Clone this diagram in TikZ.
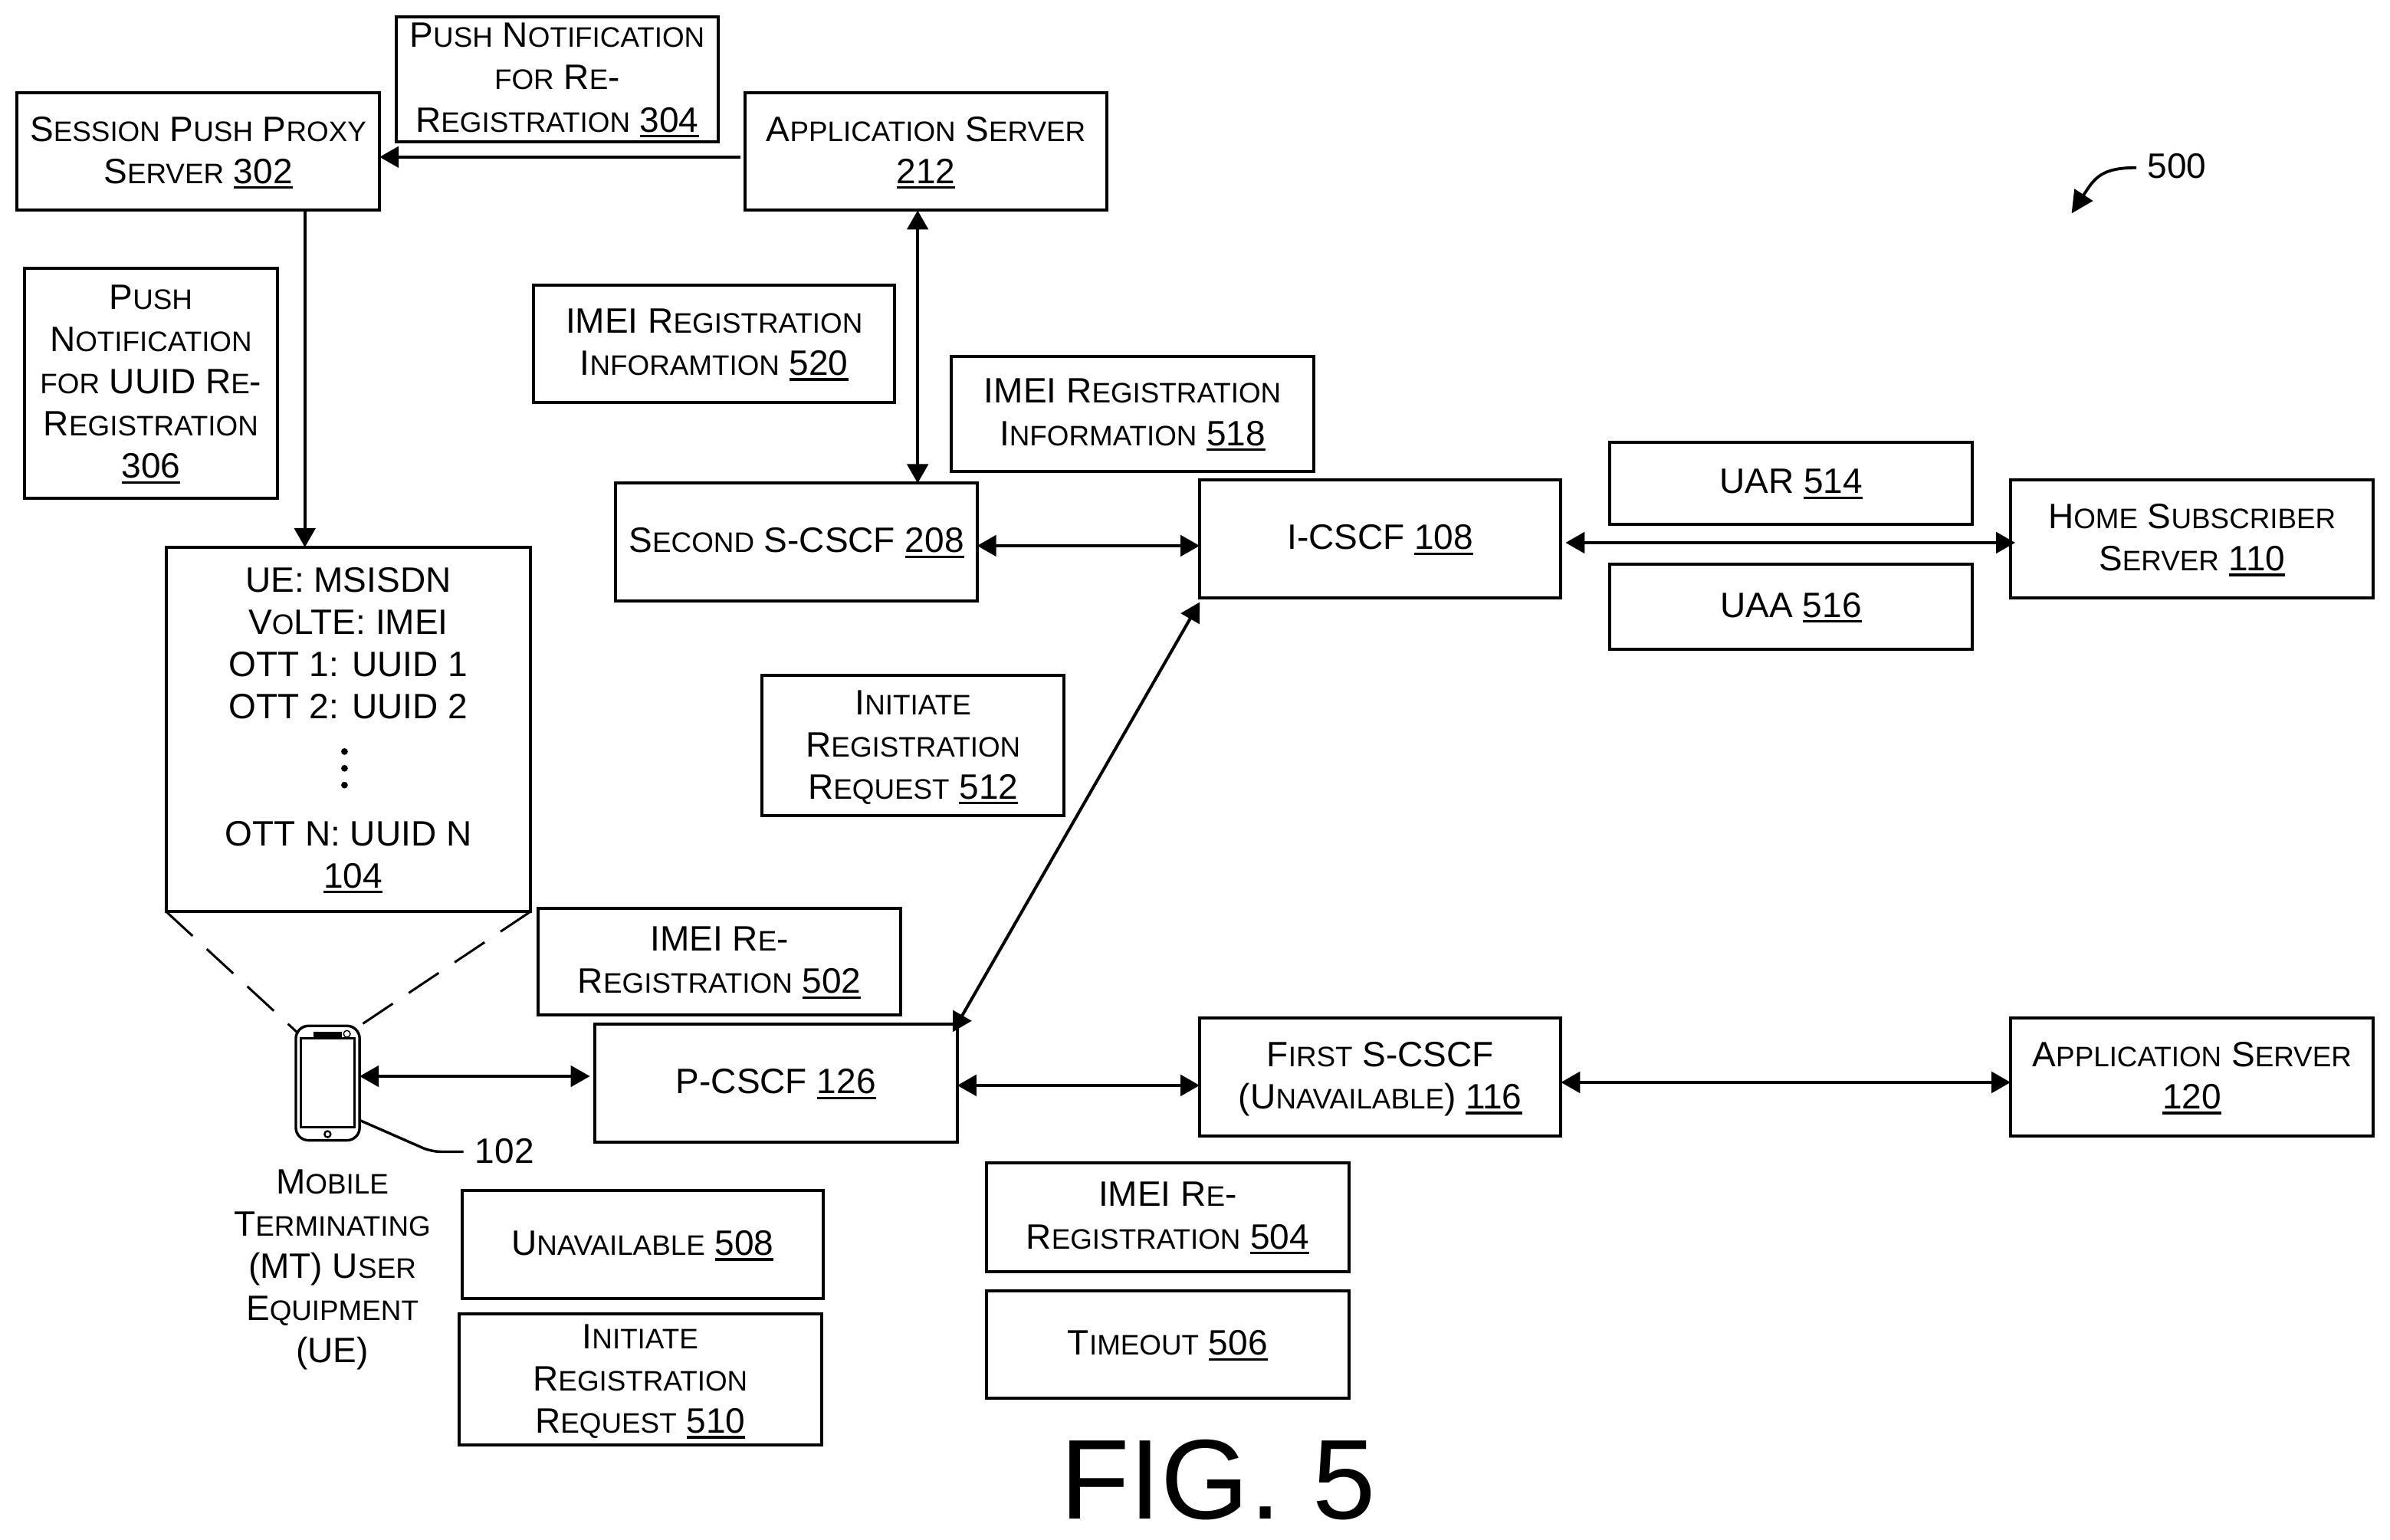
\documentclass[tikz,border=0pt]{standalone}
\usepackage{fontspec}
\setmainfont{Liberation Sans}
\usetikzlibrary{arrows.meta,calc}
\newcommand\sm[1]{{\fontsize{18.4}{27.55}\selectfont #1}}
\newcommand\unum[1]{\setbox0\hbox{#1}\rlap{\smash{\rule[-3.6pt]{\wd0}{1.7pt}}}\box0}
\tikzset{
  lbl/.style={inner sep=0pt,outer sep=0pt,align=center,font=\fontsize{23}{27.55}\selectfont},
  box/.style={lbl,draw,line width=2pt},
  link/.style={line width=2pt,{Triangle[length=12.5pt,width=13.7pt]}-{Triangle[length=12.5pt,width=13.7pt]}},
  oneway/.style={line width=2pt,-{Triangle[length=12.5pt,width=13.7pt]}},
  cone/.style={line width=1.5pt,dash pattern=on 23.5pt off 12.5pt}
}
\newcommand\bxx[6]{%
  \pgfmathsetmacro\cxx{(#2+#4)/2}\pgfmathsetmacro\cyy{(#3+#5)/2}%
  \pgfmathsetmacro\wxx{(#4-#2)*0.9943}\pgfmathsetmacro\hxx{(#5-#3)*0.9943}%
  \node[box,minimum width=\wxx pt,minimum height=\hxx pt] (#1) at (\cxx,\cyy) {#6\rule[-2.3pt]{0pt}{0pt}};}
\begin{document}
\begin{tikzpicture}[x=0.9943pt,y=-0.9943pt]
\useasboundingbox[fill=white] (0,0) rectangle (1567.9,1009.9);
\bxx{n302}{11}{61}{249}{138}{S\sm{ESSION} P\sm{USH} P\sm{ROXY}\\S\sm{ERVER} \unum{302}}
\bxx{n304}{260}{11}{471}{93}{P\sm{USH} N\sm{OTIFICATION}\\\sm{FOR} R\sm{E}-\\R\sm{EGISTRATION} \unum{304}}
\bxx{n212}{489}{61}{726}{138}{A\sm{PPLICATION} S\sm{ERVER}\\\unum{212}}
\bxx{n306}{16}{176}{182}{327}{P\sm{USH}\\N\sm{OTIFICATION}\\\sm{FOR} UUID R\sm{E}-\\R\sm{EGISTRATION}\\\unum{306}}
\bxx{n520}{350}{187}{587}{264}{IMEI R\sm{EGISTRATION}\\I\sm{NFORAMTION} \unum{520}}
\bxx{n518}{624}{234}{862}{309}{IMEI R\sm{EGISTRATION}\\I\sm{NFORMATION} \unum{518}}
\bxx{n208}{404}{317}{641}{394}{S\sm{ECOND} S-CSCF \unum{208}}
\bxx{n108}{787}{315}{1024}{392}{I-CSCF \unum{108}}
\bxx{n514}{1056}{290}{1294}{344}{UAR \unum{514}}
\bxx{n516}{1056}{370}{1294}{426}{UAA \unum{516}}
\bxx{n110}{1319}{315}{1557}{392}{H\sm{OME} S\sm{UBSCRIBER}\\S\sm{ERVER} \unum{110}}
\bxx{n512}{500}{443}{698}{535}{\rule{0pt}{17pt}I\sm{NITIATE}\\R\sm{EGISTRATION}\\R\sm{E\smash{Q}UEST} \unum{512}}
\bxx{n104}{109}{359}{348}{598}{UE: MSISDN\\V\sm{O}LTE: IMEI\\OTT 1: UUID 1\\OTT 2: UUID 2\\[55pt]OTT N: UUID N\\\hspace*{6pt}\unum{104}}
\bxx{n502}{353}{596}{591}{666}{IMEI R\sm{E}-\\R\sm{EGISTRATION} \unum{502}}
\bxx{n126}{390}{672}{628}{749}{P-CSCF \unum{126}}
\bxx{n116}{787}{668}{1024}{745}{F\sm{IRST} S-CSCF\\\smash{(}U\sm{NAVAILABLE}\smash{)} \unum{116}}
\bxx{n120}{1319}{668}{1557}{745}{A\sm{PPLICATION} S\sm{ERVER}\\\unum{120}}
\bxx{n504}{647}{763}{885}{834}{IMEI R\sm{E}-\\R\sm{EGISTRATION} \unum{504}}
\bxx{n506}{647}{847}{885}{917}{T\sm{IMEOUT} \unum{506}}
\bxx{n508}{303}{781}{540}{852}{U\sm{NAVAILABLE} \unum{508}}
\bxx{n510}{301}{862}{539}{948}{\rule{0pt}{17pt}I\sm{NITIATE}\\R\sm{EGISTRATION}\\R\sm{E\smash{Q}UEST} \unum{510}}
% dots in 104
\foreach \yy in {493,504,515}{\fill (226,\yy) circle (2.2pt);}
% phone
\node[draw,line width=1.7pt,rounded corners=8.3pt,inner sep=0pt,outer sep=0pt,minimum width=41.6pt,minimum height=74.7pt] (phone) at (215,710.5) {};
\draw[line width=1.7pt] (197.3,681) rectangle (232.6,739.3);
\fill (205.7,677) rectangle (224.3,680.2);
\draw[line width=0.7pt] (227.6,678.2) circle (2.2pt);
\draw[line width=1.2pt] (214.9,744) circle (2pt);
\node[lbl] (mt) at (218,833) {M\sm{OBILE}\\T\sm{ERMINATING}\\(MT) U\sm{SER}\\E\sm{QUIPMENT}\\(UE)};
\node[lbl] (l102) at (331,755) {102};
\node[lbl] (l500) at (1428,109) {500};
\node[lbl,font=\fontsize{74}{80}\selectfont] (fig) at (799,971) {FIG. 5};
% coordinates
\coordinate (y212) at (0,103);
\coordinate (x302) at (200,0);
\coordinate (x212) at (602,0);
\coordinate (y208) at (0,358);
\coordinate (y108) at (0,356);
\coordinate (y126) at (0,712);
\coordinate (y116) at (0,710);
\coordinate (yph) at (0,706);
\coordinate (pc) at (625,677);
\coordinate (ic) at (787,395);
\coordinate (a500) at (1401.5,110);
\coordinate (b500) at (1359,140);
\coordinate (c1) at (236.3,735);
\coordinate (c2) at (283,755.5);
\coordinate (c3) at (304,755.5);
\coordinate (d1) at (195.8,678);
\coordinate (d2) at (237.3,672);
% connectors
\draw[oneway] ([xshift=-3pt]n212.west |- y212) -- (n302.east |- y212);
\draw[oneway] (x302 |- n302.south) -- (x302 |- n104.north);
\draw[link] (x212 |- n212.south) -- (x212 |- n208.north);
\draw[link] (n208.east |- y208) -- (n108.west |- y208);
\draw[link] ([xshift=3pt]n108.east |- y108) -- ([xshift=3pt]n110.west |- y108);
\draw[link] (pc) -- (ic);
\draw[link] (phone.east |- yph) -- ([xshift=-3pt]n126.west |- yph);
\draw[link] (n126.east |- y126) -- (n116.west |- y126);
\draw[link] (n116.east |- y116) -- (n120.west |- y116);
\draw[line width=1.9pt,-{Triangle[length=14.5pt,width=14pt]}] (a500) .. controls (1378,110) and (1374,117) .. (b500);
\draw[line width=1.7pt,rounded corners=6pt] (c1) -- (c2) -- (c3);
\draw[cone] (n104.south west) -- (d1);
\draw[cone] (n104.south east) -- (d2);
\end{tikzpicture}
\end{document}
